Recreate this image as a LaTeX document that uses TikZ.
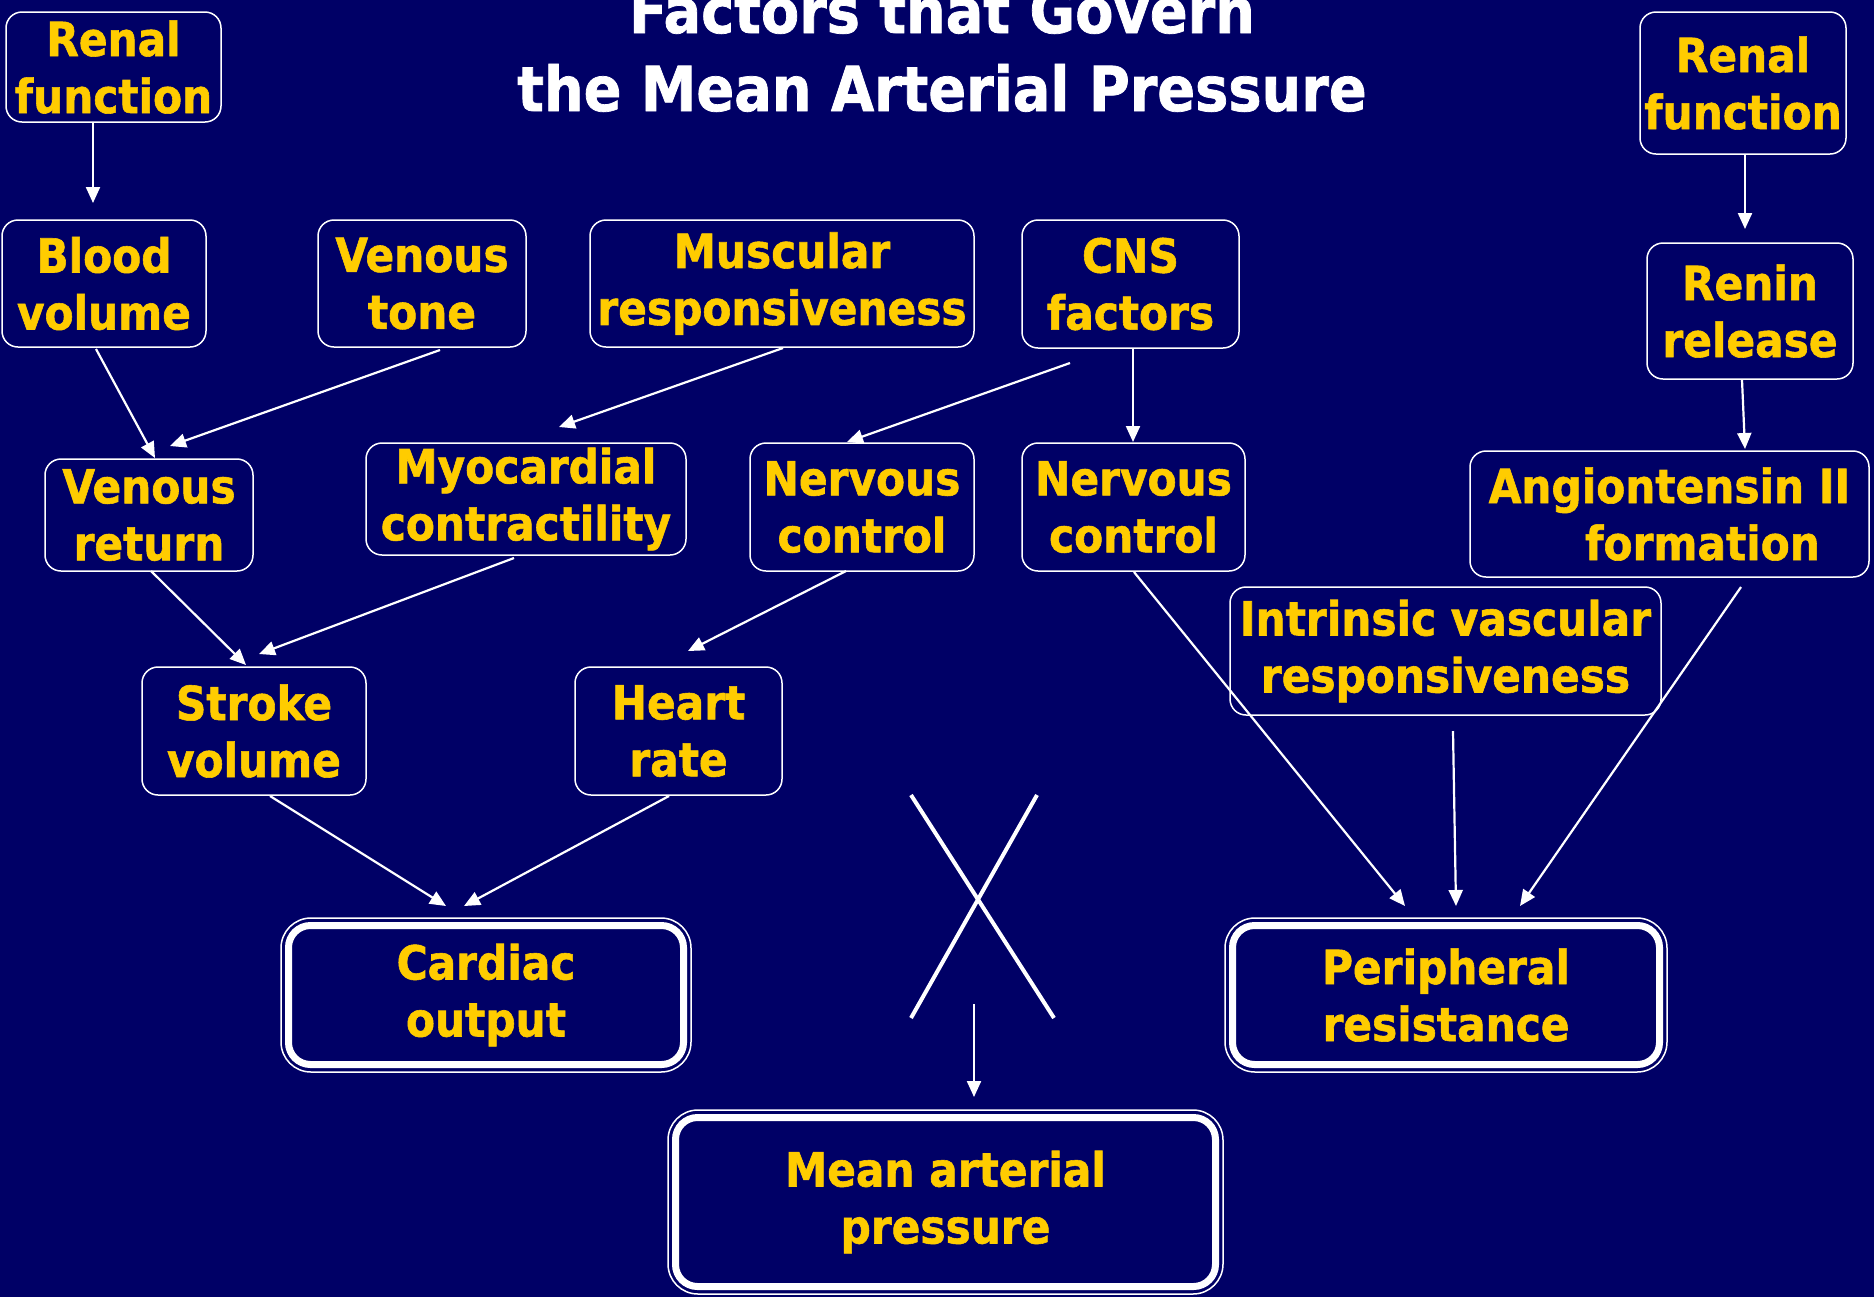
\documentclass[tikz,border=0pt]{standalone}
\usepackage{fontspec}
\setmainfont{DejaVu Sans Condensed}[BoldFont={DejaVu Sans Condensed Bold}, BoldFeatures={FakeBold=1.2}]
\usetikzlibrary{arrows.meta,calc}
\definecolor{navy}{RGB}{0,0,102}
\definecolor{gold}{RGB}{255,204,0}
\begin{document}
\begin{tikzpicture}[x=0.5pt,y=-0.5pt,
  box/.style={draw=white, line width=0.75pt, rounded corners=8pt, fill=navy, text=gold,
    font=\bfseries\fontsize{23.5}{28.5}\selectfont, align=center, inner sep=0pt, outer sep=0pt},
  bigbox/.style={box, line width=3.5pt, rounded corners=11pt},
  frame/.style={draw=white, line width=0.75pt, rounded corners=15pt},
  arr/.style={draw=white, line width=1.1pt, -{Triangle[length=8pt,width=7pt]}},
  titletext/.style={text=white, font=\bfseries\fontsize{31}{37}\selectfont, anchor=base, inner sep=0pt}]
\fill[navy] (0,0) rectangle (1874,1297);
\useasboundingbox (0,0) rectangle (1874,1297);

% title
\node[titletext] (t1) at (942,33) {Factors that Govern};
\node[titletext] (t2) at (942,111) {the Mean Arterial Pressure};

% boxes
\node[box, minimum width=107.5pt, minimum height=55pt] (renalL) at (113.5,67) {Renal\\function};
\node[box, minimum width=102pt, minimum height=63.5pt] (bloodv) at (104,283.5) {Blood\\volume};
\node[box, minimum width=104pt, minimum height=63.5pt] (vtone) at (422,283.5) {Venous\\tone};
\node[box, minimum width=192pt, minimum height=63.5pt] (musc) at (782,283.5) {Muscular\\responsiveness};
\node[box, minimum width=108.5pt, minimum height=64pt] (cns) at (1130.5,284) {CNS\\factors};
\node[box, minimum width=103pt, minimum height=71pt] (renalR) at (1743,83) {Renal\\function};
\node[box, minimum width=103pt, minimum height=68pt] (renin) at (1750,311) {Renin\\release};
\node[box, minimum width=104pt, minimum height=56pt] (vret) at (149,515) {Venous\\return};
\node[box, minimum width=160pt, minimum height=56pt] (myo) at (526,499) {\rule{0pt}{3pt}Myocardial\\contractility};
\node[box, minimum width=112pt, minimum height=64pt] (nc1) at (862,507) {Nervous\\control};
\node[box, minimum width=111.5pt, minimum height=64pt] (nc2) at (1133.5,507) {Nervous\\control};
\node[box, minimum width=199.5pt, minimum height=63pt] (ang) at (1669.5,514) {Angiontensin II\\\hspace{33pt}formation};
\node[box, minimum width=215.5pt, minimum height=64pt] (intr) at (1445.5,651) {Intrinsic vascular\\responsiveness};
\node[box, minimum width=112pt, minimum height=64pt] (stroke) at (254,731) {Stroke\\volume};
\node[box, minimum width=103.5pt, minimum height=64pt] (heart) at (678.5,731) {Heart\\rate};

\node[bigbox, minimum width=197.5pt, minimum height=69.5pt] (cardiac) at (486,995) {Cardiac\\output};
\node[bigbox, minimum width=213.5pt, minimum height=69.5pt] (periph) at (1446,995) {Peripheral\\resistance};
\node[bigbox, minimum width=270pt, minimum height=84.5pt] (mean) at (945.5,1202) {Mean arterial\\pressure};
\foreach \n in {cardiac,periph,mean}
  \draw[frame] ($(\n.north west)+(-7.5,-7.5)$) rectangle ($(\n.south east)+(7.5,7.5)$);

% arrows
\draw[arr] ($(renalL.south)+(-20.5,1)$) -- ($(bloodv.north)+(-11,-17)$);
\draw[arr] ($(bloodv.south)+(-8,2)$) -- ($(vret.north)+(6,-1)$);
\draw[arr] ($(vtone.south)+(18,3)$) -- ($(vret.north)+(21,-13)$);
\draw[arr] ($(musc.south)+(1,1)$) -- ($(myo.north)+(33,-16)$);
\draw[arr] ($(cns.south)+(-60.5,15)$) -- ($(nc1.north)+(-15,-1)$);
\draw[arr] ($(cns.south)+(2.5,0)$) -- ($(nc2.north)+(-0.5,-1)$);
\draw[arr] ($(renalR.south)+(2,1)$) -- ($(renin.north)+(-5,-14)$);
\draw[arr] ($(renin.south)+(-8,1)$) -- ($(ang.north)+(75.5,-2)$);
\draw[arr] ($(vret.south)+(2,0)$) -- ($(stroke.north)+(-8,-2)$);
\draw[arr] ($(myo.south)+(-12,3)$) -- ($(stroke.north)+(5,-13)$);
\draw[arr] ($(nc1.south)+(-16,0)$) -- ($(heart.north)+(9.5,-16)$);
\draw[arr] ($(stroke.south)+(16,1)$) -- ($(cardiac.north)+(-40,-19.5)$);
\draw[arr] ($(heart.south)+(-9.5,1)$) -- ($(cardiac.north)+(-22,-19.5)$);
\draw[arr] ($(nc2.south)+(0.5,1)$) -- ($(periph.north)+(-41,-19.5)$);
\draw[arr] ($(intr.south)+(7.5,16)$) -- ($(periph.north)+(10,-19.5)$);
\draw[arr] ($(ang.south)+(71.5,10)$) -- ($(periph.north)+(74,-19.5)$);

% cross
\draw[white, line width=2pt] (911,795) -- (1054,1018);
\draw[white, line width=2pt] (1037,795) -- (911,1018);
\coordinate (xbot) at (974,1004);
\draw[arr] (xbot) -- ($(mean.north)+(28.5,-20.5)$);
\end{tikzpicture}
\end{document}
